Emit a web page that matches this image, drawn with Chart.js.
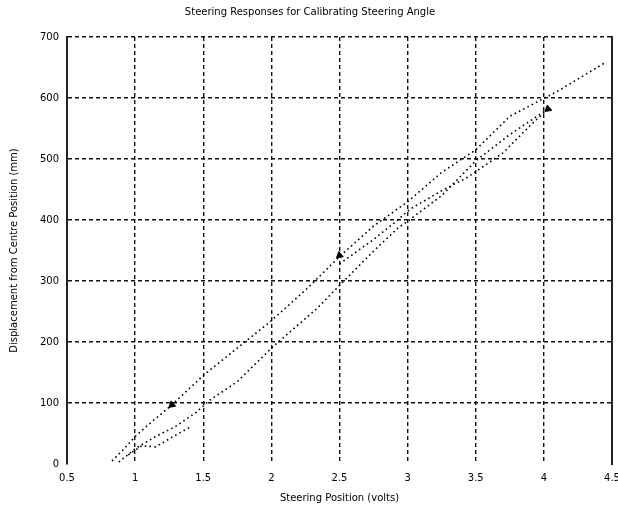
<!DOCTYPE html>
<html>
<head>
<meta charset="utf-8">
<script src="https://cdn.jsdelivr.net/npm/chart.js@4/dist/chart.umd.min.js"></script>
<style>
html,body{margin:0;padding:0;background:#fff;}
#wrap{width:618px;height:514px;position:relative;}
</style>
</head>
<body>
<div id="wrap"><canvas id="c" width="618" height="514"></canvas></div>
<script>
// Steering voltage (volts) and displacement (mm)
const upperX = [0.83, 0.92, 1.0, 1.1, 1.17, 1.27, 1.5, 1.75, 2.0, 2.25, 2.5, 2.75, 3.0, 3.25, 3.5, 3.75, 4.1, 4.45];
const upperY = [5, 25, 45, 65, 78, 97, 145, 190, 235, 285, 340, 390, 430, 478, 515, 570, 611, 658];

const middleX = [2.5, 2.75, 2.9, 3.02, 3.25, 3.44, 3.7, 3.9, 4.03];
const middleY = [328, 368, 395, 418, 448, 470, 510, 555, 582];

const lowerX = [0.88, 1.0, 1.15, 1.3, 1.45, 1.55, 1.75, 2.01, 2.34, 2.51, 2.75, 2.93, 3.0, 3.25, 3.5, 3.75, 4.03];
const lowerY = [3, 25, 45, 62, 85, 105, 135, 192, 256, 295, 349, 387, 398, 440, 497, 540, 582];

const sideX = [0.95, 1.05, 1.15, 1.28, 1.4];
const sideY = [15, 30, 28, 45, 60];

const arrowX = [1.27, 2.5, 4.03];
const arrowY = [97, 342, 582];

const xTickValues = [0.5, 1, 1.5, 2, 2.5, 3, 3.5, 4, 4.5];
const yTickValues = [0, 100, 200, 300, 400, 500, 600, 700];

const titleText = 'Steering Responses for Calibrating Steering Angle';
const xTitle = 'Steering Position (volts)';
const yTitle = 'Displacement from Centre Position (mm)';

function pts(xs, ys){ return xs.map((x,i)=>({x:x, y:ys[i]})); }

const dotted = {
  showLine: true, borderColor: '#000', backgroundColor: '#000',
  borderWidth: 1.6, borderDash: [1.6, 3.2], pointRadius: 0, tension: 0, fill: false
};

const font = {family: 'DejaVu Sans', size: 10};

new Chart(document.getElementById('c'), {
  type: 'scatter',
  data: {
    datasets: [
      Object.assign({label:'upper', data: pts(upperX, upperY)}, dotted),
      Object.assign({label:'middle', data: pts(middleX, middleY)}, dotted),
      Object.assign({label:'lower', data: pts(lowerX, lowerY)}, dotted),
      Object.assign({label:'side', data: pts(sideX, sideY)}, dotted),
      {label:'arrows', data: pts(arrowX, arrowY), showLine:false, pointStyle:'triangle',
       pointRadius: 4, rotation: 230, backgroundColor:'#000', borderColor:'#000'}
    ]
  },
  options: {
    responsive: false, animation: false,
    layout: {padding: {left: 8, right: 6, top: 0, bottom: 10}},
    plugins: {
      legend: {display: false}, tooltip: {enabled: false},
      title: {display: true, text: titleText, color: '#000', font: {family:'DejaVu Sans', size: 10, weight: 'normal'}, padding: {top: 6, bottom: 19}}
    },
    scales: {
      x: {
        type: 'linear', min: 0.5, max: 4.5,
        afterBuildTicks: s => { s.ticks = xTickValues.map(v => ({value: v})); },
        afterFit: s => { s.paddingRight = 0; s.paddingLeft = 0; },
        ticks: {color: '#000', font: font, padding: 8, callback: v => String(v)},
        grid: {color: ctx => (ctx.tick && (ctx.tick.value === 0.5 || ctx.tick.value === 4.5)) ? 'rgba(0,0,0,0)' : '#111', lineWidth: 1.4, drawTicks: false},
        border: {display: false, dash: [4, 3]},
        title: {display: true, text: xTitle, color: '#000', font: font, padding: {top: 0, bottom: 0}}
      },
      y: {
        type: 'linear', min: 0, max: 700,
        afterBuildTicks: s => { s.ticks = yTickValues.map(v => ({value: v})); },
        afterFit: s => { s.width = 59; },
        ticks: {color: '#000', font: font, padding: 8},
        grid: {color: ctx => (ctx.tick && ctx.tick.value === 0) ? 'rgba(0,0,0,0)' : '#111', lineWidth: 1.4, drawTicks: false},
        border: {display: true, color: '#222', width: 2, dash: [4, 3]},
        title: {display: true, text: yTitle, color: '#000', font: font, padding: {top: 0, bottom: 4}}
      },
      y2: {
        type: 'linear', position: 'right', min: 0, max: 700,
        afterFit: s => { s.width = 0; },
        ticks: {display: false}, grid: {display: false, drawTicks: false},
        border: {display: true, color: '#222', width: 2}
      }
    }
  }
});
</script>
</body>
</html>
